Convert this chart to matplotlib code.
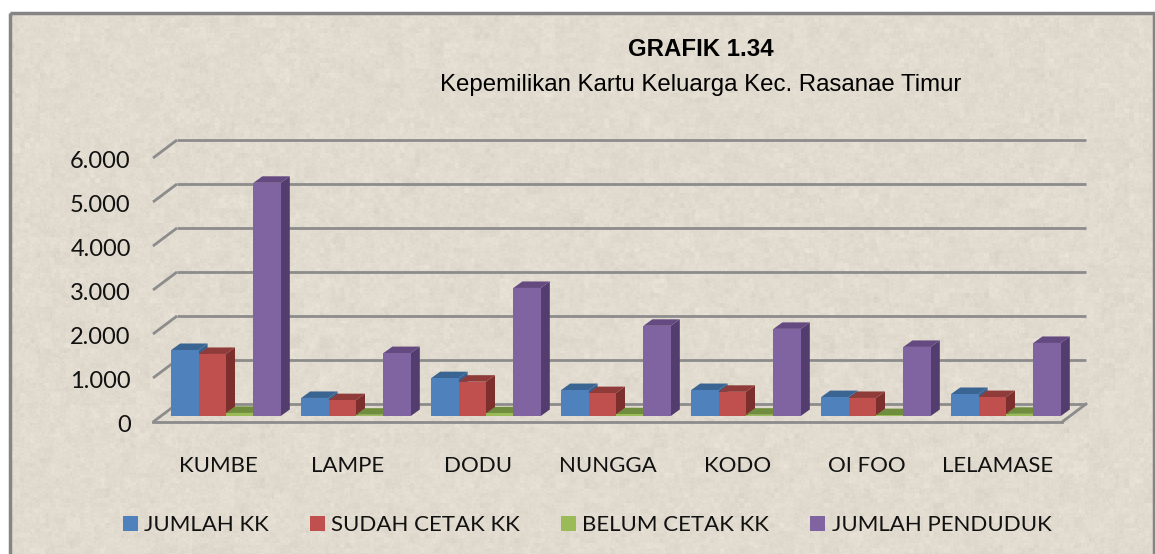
import matplotlib
matplotlib.use('Agg')
import matplotlib.pyplot as plt
import matplotlib.patches as patches
import matplotlib.transforms as mtrans
import numpy as np

W, H = 1155, 554

categories = ['KUMBE', 'LAMPE', 'DODU', 'NUNGGA', 'KODO', 'OI FOO', 'LELAMASE']
jumlah_kk = [1500, 410, 860, 590, 590, 430, 500]
sudah_cetak = [1410, 360, 780, 520, 550, 410, 430]
belum_cetak = [70, 30, 60, 40, 30, 20, 50]
jumlah_penduduk = [5300, 1430, 2910, 2050, 1980, 1570, 1660]
y_ticks = [0, 1000, 2000, 3000, 4000, 5000, 6000]
y_labels = ['0', '1.000', '2.000', '3.000', '4.000', '5.000', '6.000']

series = [
    ('JUMLAH KK', jumlah_kk, '#4F81BD', '#3A6491', '#386190'),
    ('SUDAH CETAK KK', sudah_cetak, '#C0504D', '#8F3B39', '#7D2F2D'),
    ('BELUM CETAK KK', belum_cetak, '#9BBB59', '#6F8D3C', '#6F8D3C'),
    ('JUMLAH PENDUDUK', jumlah_penduduk, '#8064A2', '#644A80', '#533C6E'),
]

FRAME = '#858585'
GRID = '#8C8C8C'
PX_PER_UNIT = 264 / 6000


def px_axes(left, top, right, bottom):
    return [left / W, 1 - bottom / H, (right - left) / W, (bottom - top) / H]


fig = plt.figure(figsize=(W / 100, H / 100), dpi=100, facecolor='white')

# textured paper panel, purely decorative
bg = fig.add_axes([0, 0, 1, 1], zorder=0)
bg.axis('off')
rng = np.random.default_rng(7)
ph, pw = H - 13, W - 10
tex = np.zeros((ph, pw))
for step, amp in [(2, 1.8), (5, 1.8), (14, 1.2)]:
    coarse = rng.normal(0, amp, (ph // step + 2, pw // step + 2))
    tex += np.kron(coarse, np.ones((step, step)))[:ph, :pw]
base = np.array([226, 219, 207], dtype=float)
img = np.clip(base[None, None, :] + tex[:, :, None], 0, 255).astype(np.uint8)
bg.imshow(img, extent=(10, W - 1, H, 13), aspect='auto', interpolation='bilinear')
bg.set_xlim(0, W)
bg.set_ylim(H, 0)
bg.add_patch(patches.Rectangle((10, 13), W - 11, H, fill=False, edgecolor=FRAME, linewidth=2.5))

# front plane: holds tick labels, wall gridlines and the floor
front = fig.add_axes(px_axes(153, 158, 1062, 422), zorder=1)
front.patch.set_visible(False)
front.set_xlim(0, 7)
front.set_ylim(0, 6000)
for s in front.spines.values():
    s.set_visible(False)
dx = 24 / (909 / 7)
dy = 18 / PX_PER_UNIT
for v in y_ticks:
    front.plot([0, dx], [v, v + dy], color=GRID, lw=2, clip_on=False, solid_capstyle='butt')
    front.plot([dx, 7 + dx], [v + dy, v + dy], color=GRID, lw=2, clip_on=False, solid_capstyle='butt')
front.plot([0, 7], [0, 0], color=GRID, lw=2, clip_on=False)
front.plot([7, 7 + dx], [0, dy], color=GRID, lw=2, clip_on=False)
front.set_xticks(np.arange(7) + 0.5)
front.set_xticklabels(categories, family='Lato', fontsize=16, color='#111111')
front.set_yticks(y_ticks)
front.set_yticklabels(y_labels, family='Lato', fontsize=17, color='#111111')
front.tick_params(axis='x', length=0, pad=24.5)
front.tick_params(axis='y', length=0, pad=16)
nudge = mtrans.ScaledTranslation(0, -1 / 100, fig.dpi_scale_trans)
for tick in front.yaxis.get_major_ticks():
    tick.label1.set_transform(tick.label1.get_transform() + nudge)

# bar plane: front faces of the columns
ax = fig.add_axes(px_axes(161, 152, 1071, 416), zorder=2)
ax.patch.set_visible(False)
ax.set_xlim(0, 7)
ax.set_ylim(0, 6000)
ax.axis('off')
bar_w = 27.4 / 130
bar_dx = 9 / 130
bar_dy = 6.5 / PX_PER_UNIT
x = np.arange(7) + 0.5
handles = []
for i, (name, values, face, top_c, side_c) in enumerate(series):
    for xc, v in zip(x + (i - 1.5) * bar_w, values):
        l, r = xc - bar_w / 2, xc + bar_w / 2
        ax.add_patch(patches.Polygon([(r, 0), (r + bar_dx, bar_dy), (r + bar_dx, v + bar_dy), (r, v)],
                                     facecolor=side_c, edgecolor='none', clip_on=False))
        ax.add_patch(patches.Polygon([(l, v), (l + bar_dx, v + bar_dy), (r + bar_dx, v + bar_dy), (r, v)],
                                     facecolor=top_c, edgecolor='none', clip_on=False))
    ax.bar(x + (i - 1.5) * bar_w, values, width=bar_w, color=face, clip_on=False, zorder=1 + 0.1 * i)
    handles.append(patches.Patch(facecolor=face, label=name))

fig.text(701 / W, 1 - 49 / H, 'GRAFIK 1.34', ha='center', va='center', family='Liberation Sans',
         fontsize=17.3, fontweight='bold', color='black')
fig.text(701 / W, 1 - 85 / H, 'Kepemilikan Kartu Keluarga Kec. Rasanae Timur', ha='center', va='center',
         family='Liberation Sans', fontsize=17.3, color='black')

leg = fig.legend(handles=handles, loc='center', bbox_to_anchor=(587 / W, 1 - 525 / H), ncol=4, frameon=False,
                 prop={'family': 'Lato', 'size': 16}, handlelength=0.68, handleheight=0.68,
                 handletextpad=0.28, columnspacing=1.85, labelcolor='#111111')

plt.savefig('out.png', dpi=100, facecolor='white')
plt.close()
